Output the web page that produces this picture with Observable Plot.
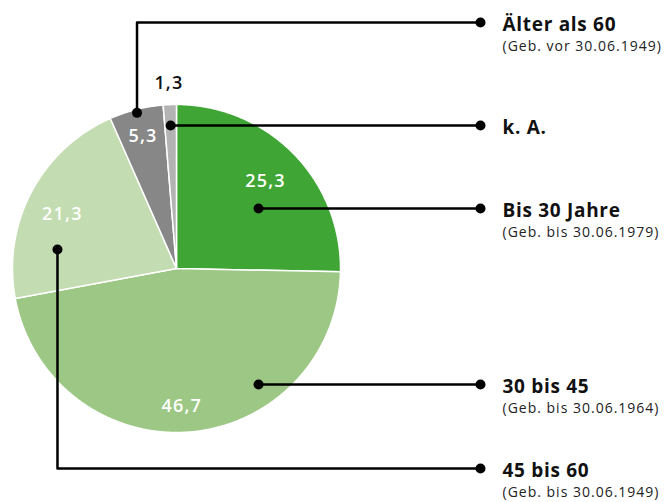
<!DOCTYPE html>
<html><head><meta charset="utf-8">
<script src="https://cdn.jsdelivr.net/npm/d3@7"></script>
<script src="https://cdn.jsdelivr.net/npm/@observablehq/plot@0.6"></script>
<style>body{margin:0;background:#fff}#chart svg{display:block}</style>
</head><body><div id="chart"></div>
<script>
// ---- data ----
const categories = ["Bis 30 Jahre", "30 bis 45", "45 bis 60", "Älter als 60", "k. A."];
const subtitles = ["(Geb. bis 30.06.1979)", "(Geb. bis 30.06.1964)", "(Geb. bis 30.06.1949)", "(Geb. vor 30.06.1949)", ""];
const values = [25.3, 46.7, 21.3, 5.3, 1.3];
const valueLabels = ["25,3", "46,7", "21,3", "5,3", "1,3"];

// ---- styles / layout ----
const colors = ["#3fa535", "#9dc785", "#c3dcb1", "#878787", "#b3b3b3"];
const valueColors = ["#ffffff", "#ffffff", "#ffffff", "#ffffff", "#111111"];
const W = 665, H = 502, CX = 176, CY = 268, R = 164; // pie centre & radius in px
const labelRadius = [0.76, 0.84, 0.77, 0.83, 1.13];
const labelAngleShift = [0, 2.5, -2.5, 0, 0];      // degrees
const anchorAngle = [53.8, 144.7, 279.1, null, null]; // null -> slice middle
const anchorRadius = [0.62, 0.866, 0.735, 0.979, 0.873];
const rowY = [0.366, -0.707, -1.22, 1.5, 0.872];   // label rows (pie-radius units)
const colX = (480 - CX) / R;
const textX = (502 - CX) / R;
const font = "'Open Sans', sans-serif";

// ---- geometry derived from values ----
const arcs = d3.pie().sort(null).value(d => d)(values);
const toRad = d => d * Math.PI / 180;
const slicePts = [];
arcs.forEach((a, i) => {
  slicePts.push({c: categories[i], x: 0, y: 0});
  const n = Math.max(4, Math.ceil((a.endAngle - a.startAngle) / toRad(0.5)));
  for (let j = 0; j <= n; j++) {
    const t = a.startAngle + (a.endAngle - a.startAngle) * j / n;
    slicePts.push({c: categories[i], x: Math.sin(t), y: Math.cos(t)});
  }
  slicePts.push({c: categories[i], x: 0, y: 0});
});
const valuePts = arcs.map((a, i) => {
  const t = (a.startAngle + a.endAngle) / 2 + toRad(labelAngleShift[i]);
  return {label: valueLabels[i], x: labelRadius[i] * Math.sin(t), y: labelRadius[i] * Math.cos(t), col: valueColors[i]};
});
const leaderPts = [], dots = [], labels = [];
arcs.forEach((a, i) => {
  const t = anchorAngle[i] == null ? (a.startAngle + a.endAngle) / 2 : toRad(anchorAngle[i]);
  const ax = anchorRadius[i] * Math.sin(t), ay = anchorRadius[i] * Math.cos(t);
  leaderPts.push({c: categories[i], x: ax, y: ay}, {c: categories[i], x: ax, y: rowY[i]}, {c: categories[i], x: colX, y: rowY[i]});
  dots.push({x: ax, y: ay}, {x: colX, y: rowY[i]});
  labels.push({t: categories[i], s: subtitles[i], x: textX, y: rowY[i]});
});

const chart = Plot.plot({
  width: W, height: H,
  margin: 0,
  style: {fontFamily: font, background: "#fff"},
  x: {axis: null, domain: [-CX / R, (W - CX) / R], range: [0, W]},
  y: {axis: null, domain: [-(H - CY) / R, CY / R], range: [H, 0]},
  marks: [
    Plot.line(slicePts, {x: "x", y: "y", z: "c", fill: d => colors[categories.indexOf(d.c)], stroke: "#fff", strokeWidth: 1.5, strokeLinejoin: "round"}),
    Plot.text(valuePts, {x: "x", y: "y", text: "label", fill: d => d.col, fontSize: 18, fontWeight: 600, textAnchor: "middle", lineAnchor: "middle"}),
    Plot.line(leaderPts, {x: "x", y: "y", z: "c", stroke: "#000", strokeWidth: 2.5}),
    Plot.dot(dots, {x: "x", y: "y", r: 5, fill: "#000"}),
    Plot.text(labels, {x: "x", y: "y", text: "t", fill: "#111", fontSize: 19, fontWeight: 700, textAnchor: "start", lineAnchor: "middle", dy: 2}),
    Plot.text(labels, {x: "x", y: "y", text: "s", fill: "#222", fontSize: 14, textAnchor: "start", lineAnchor: "middle", dy: 24})
  ]
});
// letter spacing to match the wider reference typeface
const textGroups = d3.select(chart).selectAll("g[aria-label='text']").nodes();
const spacing = ["1.2px", "0.7px", "1px"];
textGroups.forEach((g, i) => d3.select(g).attr("letter-spacing", spacing[i]));
document.getElementById("chart").appendChild(chart);
</script>
</body></html>
